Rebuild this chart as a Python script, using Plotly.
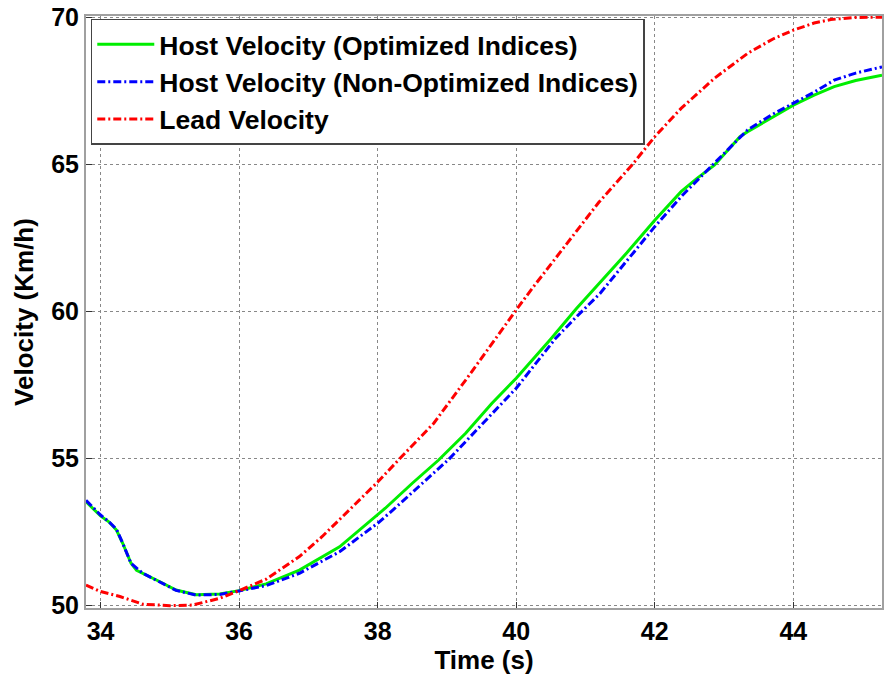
import plotly.graph_objects as go

# ---- data ----
t_opt = [33.79, 34.0, 34.12, 34.23, 34.32, 34.44, 34.52, 34.61, 34.85, 35.09, 35.38, 35.72,
         36.0, 36.39, 36.87, 37.45, 38.0, 38.11, 38.5, 38.88, 39.27, 39.65, 40.0, 40.49,
         40.87, 41.21, 41.6, 42.0, 42.38, 42.61, 42.86, 43.23, 43.34, 43.7, 44.0, 44.3,
         44.59, 44.9, 45.28]
v_opt = [53.53, 53.05, 52.85, 52.57, 52.12, 51.44, 51.2, 51.10, 50.82, 50.53, 50.37, 50.40,
         50.51, 50.74, 51.21, 52.0, 53.08, 53.31, 54.16, 54.95, 55.86, 56.88, 57.73, 59.04,
         60.1, 61.0, 62.0, 63.1, 64.07, 64.52, 64.97, 65.94, 66.11, 66.6, 67.01, 67.35,
         67.64, 67.85, 68.03]

t_non = [33.79, 34.0, 34.12, 34.23, 34.32, 34.44, 34.61, 34.85, 35.09, 35.38, 35.72, 36.0,
         36.39, 36.87, 37.45, 38.0, 38.23, 39.03, 40.0, 40.57, 40.87, 41.21, 41.6, 42.0,
         42.4, 42.85, 43.34, 43.7, 44.0, 44.3, 44.59, 44.9, 45.28]
v_non = [53.58, 53.08, 52.85, 52.6, 52.12, 51.44, 51.10, 50.82, 50.52, 50.36, 50.38, 50.50,
         50.68, 51.1, 51.83, 52.8, 53.27, 54.98, 57.39, 59.09, 59.82, 60.61, 61.75, 62.88,
         63.95, 65.0, 66.17, 66.7, 67.07, 67.45, 67.86, 68.1, 68.31]

t_lead = [33.79, 34.0, 34.28, 34.61, 35.0, 35.33, 35.72, 36.0, 36.39, 36.87, 37.2, 37.62,
          38.0, 38.3, 38.81, 39.29, 39.77, 40.0, 40.23, 40.71, 41.19, 41.68, 42.0, 42.38,
          42.86, 43.34, 43.7, 44.0, 44.3, 44.54, 44.9, 45.28]
v_lead = [50.70, 50.48, 50.31, 50.05, 50.0, 50.02, 50.25, 50.51, 50.9, 51.67, 52.35, 53.31,
          54.2, 54.95, 56.2, 57.73, 59.31, 60.05, 60.78, 62.25, 63.7, 65.0, 65.94, 66.9,
          67.92, 68.77, 69.25, 69.56, 69.8, 69.92, 69.99, 70.0]

x_ticks = [34, 36, 38, 40, 42, 44]
y_ticks = [50, 55, 60, 65, 70]

names = ["Host Velocity (Optimized Indices)",
         "Host Velocity (Non-Optimized Indices)",
         "Lead Velocity"]

FONT = "Liberation Sans, Arial, Helvetica, sans-serif"
dashdot = "8px,3px,2px,3px"

fig = go.Figure()
fig.add_trace(go.Scatter(x=t_opt, y=v_opt, mode="lines", name=names[0],
                         line=dict(color="#00ee00", width=3)))
fig.add_trace(go.Scatter(x=t_non, y=v_non, mode="lines", name=names[1],
                         line=dict(color="#0000ff", width=3, dash=dashdot)))
fig.add_trace(go.Scatter(x=t_lead, y=v_lead, mode="lines", name=names[2],
                         line=dict(color="#ff0000", width=3, dash=dashdot)))

axis_common = dict(
    showline=True, linecolor="#a0a0a0", linewidth=2, mirror=True,
    ticks="inside", ticklen=6, tickcolor="#333333", tickwidth=1,
    showgrid=True, gridcolor="#888888", gridwidth=1, griddash="dot",
    zeroline=False, ticklabeloverflow="allow",
    tickfont=dict(family=FONT, size=25, color="black", weight="bold"),
)

fig.update_xaxes(range=[33.79, 45.28], tickvals=x_ticks,
                 ticktext=[str(v) for v in x_ticks],
                 title=dict(text="Time (s)", standoff=2,
                            font=dict(family=FONT, size=26, color="black", weight="bold")),
                 **axis_common)
fig.update_yaxes(range=[49.92, 70.04], tickvals=y_ticks,
                 ticktext=[str(v) for v in y_ticks],
                 title=dict(text="Velocity (Km/h)", standoff=10,
                            font=dict(family=FONT, size=26, color="black", weight="bold")),
                 **axis_common)

fig.update_layout(
    width=886, height=677,
    margin=dict(l=86, r=2, t=16, b=69),
    paper_bgcolor="white", plot_bgcolor="white",
    showlegend=True,
    legend=dict(x=0.006, y=0.995, xanchor="left", yanchor="top",
                bgcolor="white", bordercolor="#444444", borderwidth=1.5,
                font=dict(family=FONT, size=26.5, color="black", weight="bold"),
                tracegroupgap=0, itemwidth=57),
)

# remove the default page margin so the figure sits at the window's corner
fig.write_html("out.html",
               config={"displayModeBar": False},
               post_script="document.body.style.margin='0';document.body.style.overflow='hidden';")
